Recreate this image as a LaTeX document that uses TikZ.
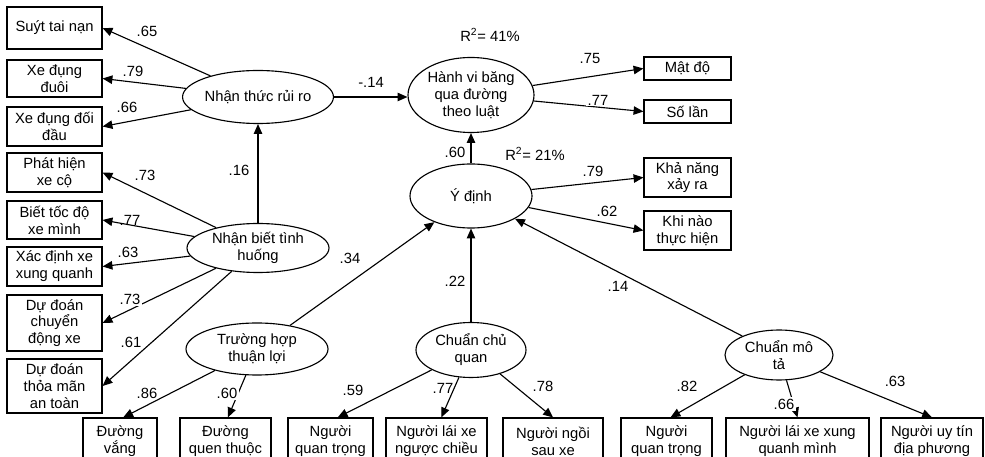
\documentclass[tikz,border=0pt]{standalone}
\usepackage{fontspec}
\setmainfont{Liberation Sans}
\usetikzlibrary{arrows.meta,shapes.geometric}
\newcommand{\semfont}{\fontsize{10.5}{12}\selectfont}
\tikzset{
  box/.style  ={draw, line width=0.8pt, align=center, inner sep=1pt,
                font=\semfont},
  lat/.style  ={ellipse, draw, line width=0.8pt, align=center,
                inner sep=0pt, font=\semfont},
  wh/.style 2 args={minimum width=#1*0.025cm, minimum height=#2*0.025cm},
  ar/.style   ={-{Triangle[length=7pt,width=6pt]}, line width=0.8pt},
  coef/.style ={font=\semfont, inner sep=1pt},
  coefw/.style={coef, fill=white}
}

\begin{document}
\begin{tikzpicture}[x=0.025cm,y=-0.025cm]
\useasboundingbox (0,0) rectangle (985,457);
% latent variables
\node[lat, wh={138}{53}] (nt) at (258,97) {Nhận thức rủi ro};
\node[lat, wh={142}{49}] (nb) at (258,248) {Nhận biết tình\\huống};
\node[lat, wh={126}{75}] (hv) at (471,95) {Hành vi băng\\qua đường\\theo luật};
\node[lat, wh={122}{64}] (yd) at (471,196) {Ý định};
\node[lat, wh={142}{52}] (th) at (257,349) {Trường hợp\\thuận lợi};
\node[lat, wh={110}{55}] (cq) at (471,350) {Chuẩn chủ\\quan};
\node[lat, wh={108}{50}] (mt) at (779,355) {Chuẩn mô\\tả};
% left indicators
\node[box, wh={95}{42}] (suyt) at (54.5,28)   {Suýt tai nạn};
\node[box, wh={95}{37}] (duoi) at (54.5,78.5) {Xe đụng\\đuôi};
\node[box, wh={95}{39}] (dau)  at (54.5,126.5) {Xe đụng đối\\đầu};
\node[box, wh={95}{39}] (phat) at (54.5,172.5) {Phát hiện\\xe cộ};
\node[box, wh={95}{38}] (toc)  at (54.5,220)  {Biết tốc độ\\xe mình};
\node[box, wh={95}{39}] (xd)   at (54.5,266.5) {Xác định xe\\xung quanh};
\node[box, wh={95}{56}] (cd)   at (54.5,323)  {Dự đoán\\chuyển\\động xe};
\node[box, wh={95}{54}] (at)   at (54.5,386)  {Dự đoán\\thỏa mãn\\an toàn};
% right indicators
\node[box, wh={87}{23}] (mat)  at (687.5,68.5)  {Mật độ};
\node[box, wh={87}{23}] (solan) at (687.5,111.5) {Số lần};
\node[box, wh={87}{39}] (kn)   at (687.5,177.5) {Khả năng\\xảy ra};
\node[box, wh={87}{39}] (kh)   at (687.5,230.5) {Khi nào\\thực hiện};
% bottom indicators (cut by the page edge)
\node[box, wh={74}{46}]  (dv)  at (120,441)   {Đường\\vắng};
\node[box, wh={91}{46}]  (dq)  at (225.5,441) {Đường\\quen thuộc};
\node[box, wh={85}{46}]  (nq1) at (330.5,441) {Người\\quan trọng};
\node[box, wh={101}{46}] (nc)  at (436.5,441) {Người lái xe\\ngược chiều};
\node[box, wh={100}{46}] (ns)  at (553,441)   {Người ngồi\\sau xe};
\node[box, wh={91}{46}]  (nq2) at (666.5,441) {Người\\quan trọng};
\node[box, wh={143}{46}] (xq)  at (797.5,441) {Người lái xe xung\\quanh mình};
\node[box, wh={102}{46}] (ut)  at (932,441)   {Người uy tín\\địa phương};

\draw[ar] (nt) -- (suyt.east);
\draw[ar] (nt) -- (duoi.east);
\draw[ar] (nt) -- (dau.east);
\draw[ar] (nb) -- (nt);
\draw[ar] (nb) -- (phat.east);
\draw[ar] (nb) -- (toc.east);
\draw[ar] (nb) -- (xd.east);
\draw[ar] (nb) -- (cd.east);
\draw[ar] (nb) -- (at.east);
\draw[ar] (nt) -- (nt -| hv.west);
\draw[ar] (hv) -- (mat.west);
\draw[ar] (hv) -- (solan.west);
\draw[ar] (yd) -- (hv);
\draw[ar] (yd) -- (kn.west);
\draw[ar] (yd) -- (kh.west);
\draw[ar] (th) -- (yd);
\draw[ar] (cq) -- (yd);
\draw[ar] (mt) -- (yd);
\draw[ar] (th) -- ([xshift=0.08cm]dv.north);
\draw[ar] (th) -- ([xshift=0.06cm]dq.north);
\draw[ar] (cq) -- ([xshift=0.18cm]nq1.north);
\draw[ar] (cq) -- ([xshift=0.12cm]nc.north);
\draw[ar] (cq) -- (ns.north);
\draw[ar] (mt) -- ([xshift=0.1cm]nq2.north);
\draw[ar] (mt) -- (xq.north);
\draw[ar] (mt) -- (ut.north);

\node[coef] (c1) at (147,31) {.65};
\node[coefw] (c2) at (133,71) {.79};
\node[coef] (c3) at (127,107) {.66};
\node[coef] (c4) at (239,170) {.16};
\node[coef] (c5) at (145,175) {.73};
\node[coef] (c6) at (130,220) {.77};
\node[coef] (c7) at (128,252) {.63};
\node[coefw] (c8) at (130,299) {.73};
\node[coefw] (c9) at (131,342) {.61};
\node[coef] (c10) at (147,393) {.86};
\node[coefw] (c11) at (227,393) {.60};
\node[coef] (c12) at (371,82) {-.14};
\node[coef] (r41) at (490,35) {R\textsuperscript{2}= 41\%};
\node[coef] (c13) at (590,58) {.75};
\node[coefw] (c14) at (598,100) {.77};
\node[coef] (c15) at (455,152) {.60};
\node[coef] (r21) at (535,154) {R\textsuperscript{2}= 21\%};
\node[coef] (c16) at (593,171) {.79};
\node[coefw] (c17) at (607,211) {.62};
\node[coef] (c18) at (350,258) {.34};
\node[coef] (c19) at (455,281) {.22};
\node[coef] (c20) at (618,286) {.14};
\node[coef] (c21) at (353,390) {.59};
\node[coef] (c22) at (443,388) {.77};
\node[coef] (c23) at (543,386) {.78};
\node[coef] (c24) at (687,386) {.82};
\node[coefw] (c25) at (784,404) {.66};
\node[coef] (c26) at (895,381) {.63};
\end{tikzpicture}
\end{document}
